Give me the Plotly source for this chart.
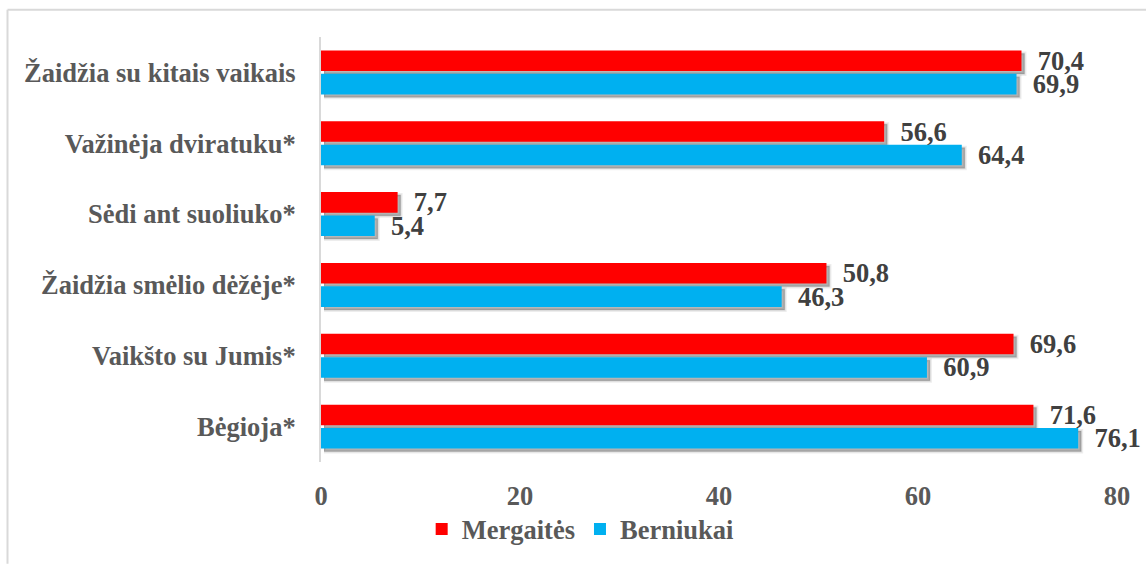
import plotly.graph_objects as go

# Activities, listed top to bottom
categories = [
    "Žaidžia su kitais vaikais",
    "Važinėja dviratuku*",
    "Sėdi ant suoliuko*",
    "Žaidžia smėlio dėžėje*",
    "Vaikšto su Jumis*",
    "Bėgioja*",
]
girls = [70.4, 56.6, 7.7, 50.8, 69.6, 71.6]
boys = [69.9, 64.4, 5.4, 46.3, 60.9, 76.1]
series_names = ["Mergaitės", "Berniukai"]
x_ticks = [0, 20, 40, 60, 80]

RED = "#ff0000"
BLUE = "#00b0f0"
FONT = "Liberation Serif"
FS = 26.5

W, H = 1146, 565
ML, MR, MT, MB = 321, 26, 37, 95
PW, PH = W - ML - MR, H - MT - MB
SH = 3  # shadow offset in px
dx, dy = SH / PW, SH / PH


def fmt(v):
    return f"{v:.1f}".replace(".", ",")


def bold(size, color):
    return dict(family=FONT, size=size, color=color, weight="bold")


fig = go.Figure()

# soft drop shadows behind the bars (offset subplot, two layers for blur)
for group, vals in (("g", girls), ("b", boys)):
    fig.add_trace(go.Bar(
        y=categories, x=vals, orientation="h", offsetgroup=group,
        marker=dict(color="rgba(0,0,0,0.10)",
                    line=dict(color="rgba(0,0,0,0.07)", width=4)),
        xaxis="x", yaxis="y", showlegend=False, hoverinfo="skip",
    ))
    fig.add_trace(go.Bar(
        y=categories, x=vals, orientation="h", offsetgroup=group,
        marker=dict(color="rgba(0,0,0,0.20)",
                    line=dict(color="rgba(0,0,0,0.10)", width=1.5)),
        xaxis="x", yaxis="y", showlegend=False, hoverinfo="skip",
    ))

# main bars
for name, vals, col in ((series_names[0], girls, RED), (series_names[1], boys, BLUE)):
    fig.add_trace(go.Bar(
        name=name, y=categories, x=vals, orientation="h",
        marker=dict(color=col, line=dict(width=0)),
        text=["\u2002" + fmt(v) for v in vals],
        textposition="outside", constraintext="none", cliponaxis=False,
        textfont=bold(FS, "#404040"),
        xaxis="x2", yaxis="y2",
    ))

axis_common = dict(range=[0, 80], showgrid=False, zeroline=False)
fig.update_layout(
    width=W, height=H,
    margin=dict(l=ML, r=MR, t=MT, b=MB),
    paper_bgcolor="white", plot_bgcolor="rgba(0,0,0,0)",
    barmode="group", bargap=0.34, bargroupgap=0.12,
    font=bold(FS, "#595959"),
    xaxis=dict(domain=[dx, 1], visible=False, **axis_common),
    yaxis=dict(domain=[0, 1 - dy], visible=False, autorange="reversed",
               type="category"),
    xaxis2=dict(domain=[0, 1 - dx], anchor="y2", showline=False,
                tickvals=x_ticks, ticks="", ticklabelstandoff=15,
                tickfont=bold(FS, "#595959"), automargin=False,
                **axis_common),
    yaxis2=dict(domain=[dy, 1], anchor="x2", autorange="reversed",
                type="category", showline=True, linecolor="#d9d9d9",
                linewidth=2, ticks="", ticklabelstandoff=18,
                automargin=False,
                tickfont=bold(FS, "#595959")),
    legend=dict(orientation="h", x=0.126, xanchor="left", y=-0.15,
                yanchor="middle", font=bold(FS, "#595959"),
                itemwidth=30, tracegroupgap=0),
    showlegend=True,
)

# outer frame (top and left edges visible)
fig.add_shape(type="line", xref="paper", yref="paper",
              x0=(7.5 - ML) / PW, x1=(W + 5 - ML) / PW,
              y0=1 + (MT - 9.5) / PH, y1=1 + (MT - 9.5) / PH,
              line=dict(color="#d9d9d9", width=2), layer="below")
fig.add_shape(type="line", xref="paper", yref="paper",
              x0=(7.5 - ML) / PW, x1=(7.5 - ML) / PW,
              y0=1 + (MT - 9.5) / PH, y1=-(MB + 5) / PH,
              line=dict(color="#d9d9d9", width=2), layer="below")

fig.write_html("out.html")
